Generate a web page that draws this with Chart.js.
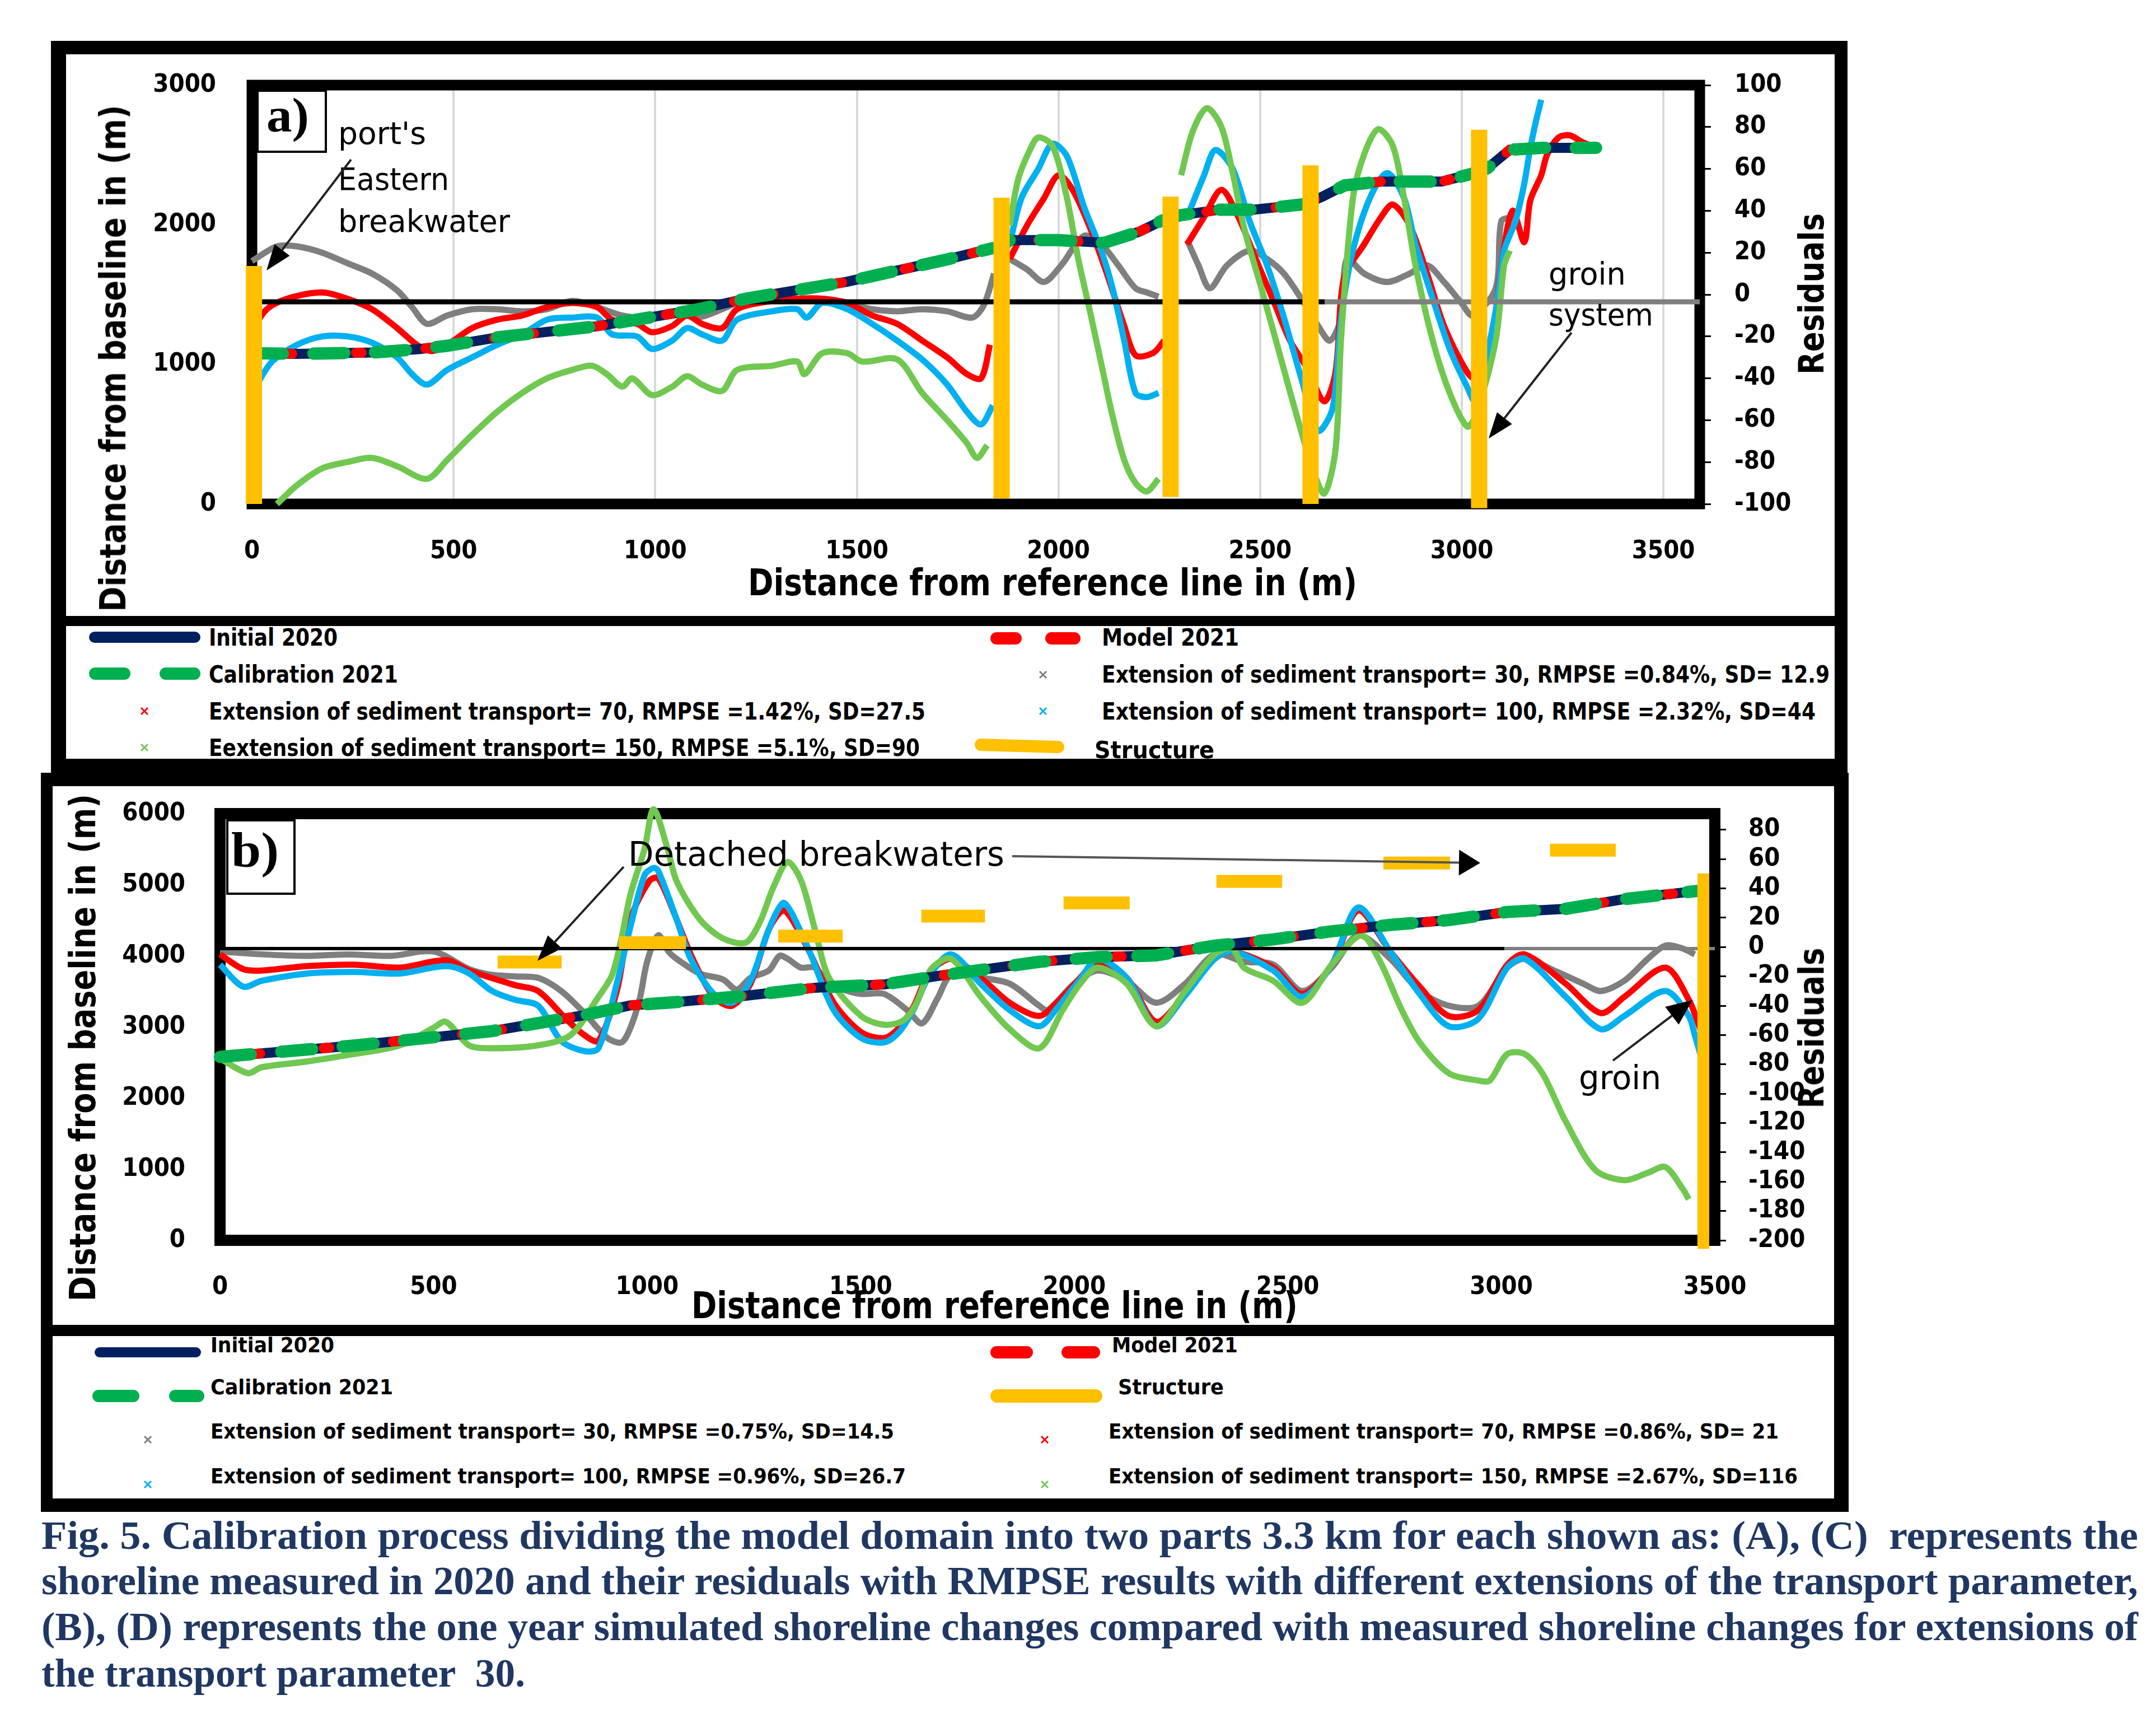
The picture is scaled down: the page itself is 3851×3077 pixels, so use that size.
<!DOCTYPE html>
<html><head><meta charset="utf-8">
<script src="https://cdn.jsdelivr.net/npm/chart.js@4.4.1/dist/chart.umd.min.js"></script>
<style>
html,body{margin:0;padding:0;background:#fff;}
body{width:3851px;height:3077px;position:relative;overflow:hidden;}
canvas{position:absolute;left:0;z-index:1;}
.b{position:absolute;background:#000;z-index:4;}
.t{position:absolute;white-space:pre;transform-origin:0 0;z-index:2;}
.lbl{position:absolute;background:#fff;border:4px solid #000;box-sizing:border-box;z-index:2;}
</style></head><body>
<canvas id="ca" width="3851" height="1100" style="top:0;width:3851px;height:1100px"></canvas>
<canvas id="cb" width="3851" height="1060" style="top:1300px;width:3851px;height:1060px"></canvas>
<svg id="ov" width="3851" height="3077" style="position:absolute;left:0;top:0;z-index:3" xmlns="http://www.w3.org/2000/svg"></svg>
<script>
// ---------------- DATA ----------------
const xTicksA = [0,500,1000,1500,2000,2500,3000,3500];
const yTicksA = [0,1000,2000,3000];
const rTicksA = [-100,-80,-60,-40,-20,0,20,40,60,80,100];
const xTicksB = [0,500,1000,1500,2000,2500,3000,3500];
const yTicksB = [0,1000,2000,3000,4000,5000,6000];
const rTicksB = [-200,-180,-160,-140,-120,-100,-80,-60,-40,-20,0,20,40,60,80];

// Panel a: shoreline (Initial 2020 / Calibration 2021 / Model 2021), distance from baseline (m)
const shoreA = [[0,1080],[112,1075],[300,1085],[418,1110],[484,1133],[608,1193],[732,1233],[856,1273],[980,1333],[1104,1393],[1228,1472],[1352,1532],[1476,1592],[1600,1672],[1724,1752],[1835,1831],[1858,1840],[1879,1890],[2000,1890],[2113,1870],[2200,1950],[2255,2027],[2300,2067],[2400,2108],[2484,2108],[2540,2125],[2611,2148],[2654,2201],[2710,2282],[2800,2309],[2950,2309],[3021,2362],[3063,2403],[3119,2537],[3200,2551],[3333,2551]];
// Panel a: structures (x, bottom, top)
const structAx = [5,1859,2278,2625,3043];
const structAbottom = [0,40,50,0,-30];
const structAtop = [1705,2194,2202,2425,2680];
// Panel a residuals
const resA30 = [[0,16],[62,23],[112,23],[174,20],[236,15],[298,10],[360,2],[397,-6],[434,-14],[484,-10],[546,-7],[608,-7],[670,-8],[732,-7],[794,-3],[856,-6],[918,-10],[980,-11],[1042,-8],[1104,-11],[1166,-7],[1228,-2],[1290,-2],[1352,-3],[1414,-2],[1476,-4],[1538,-7],[1600,-8],[1662,-7],[1724,-8],[1786,-11],[1815,-5],[1840,10],[1859,null],[1879,17],[1922,12],[1964,6],[2007,14],[2063,28],[2106,24],[2148,14],[2191,3],[2219,1],[2248,-1],[2278,null],[2319,26],[2347,14],[2375,3],[2418,14],[2474,21],[2517,17],[2559,10],[2602,-2],[2644,-15],[2673,-22],[2701,-11],[2715,17],[2758,10],[2815,6],[2871,10],[2914,14],[2956,6],[2999,-4],[3027,-10],[3084,3],[3098,35],[3126,37]];
const resA70 = [[0,-17],[37,-7],[87,-2],[174,1],[236,-2],[298,-7],[360,-16],[409,-24],[446,-27],[484,-24],[546,-16],[608,-12],[670,-10],[732,-6],[794,-4],[856,-6],[893,-12],[955,-14],[992,-18],[1042,-15],[1079,-10],[1116,-14],[1166,-16],[1203,-7],[1290,-3],[1352,-2],[1414,-2],[1476,-4],[1538,-10],[1600,-14],[1662,-22],[1724,-30],[1773,-38],[1808,-40],[1830,-24],[1859,null],[1879,17],[1922,33],[1964,46],[2000,57],[2035,50],[2078,32],[2120,10],[2163,-15],[2191,-29],[2234,-28],[2262,-22],[2278,null],[2319,24],[2361,37],[2404,50],[2446,37],[2489,17],[2531,-2],[2574,-22],[2616,-35],[2659,-51],[2687,-37],[2708,8],[2758,24],[2800,37],[2829,43],[2871,33],[2914,10],[2956,-15],[3013,-37],[3034,-40],[3077,-17],[3098,14],[3126,40],[3155,25],[3170,45],[3197,57],[3212,67],[3240,75],[3268,76],[3297,73],[3320,71]];
const resA100 = [[12,-43],[50,-32],[112,-24],[174,-20],[236,-20],[298,-23],[360,-30],[397,-38],[434,-43],[484,-36],[546,-30],[608,-24],[670,-19],[732,-12],[794,-11],[856,-11],[893,-19],[955,-20],[992,-26],[1042,-22],[1079,-16],[1116,-19],[1166,-22],[1203,-12],[1290,-8],[1352,-7],[1376,-11],[1414,-4],[1476,-7],[1538,-14],[1600,-22],[1662,-31],[1724,-43],[1773,-56],[1808,-62],[1837,-53],[1859,null],[1879,24],[1908,46],[1950,60],[1985,72],[2021,66],[2063,42],[2106,21],[2134,3],[2163,-22],[2191,-47],[2219,-49],[2248,-47],[2278,null],[2319,37],[2361,57],[2389,69],[2432,60],[2474,35],[2517,14],[2559,-11],[2602,-40],[2644,-65],[2680,-54],[2701,-11],[2730,21],[2772,46],[2815,58],[2857,46],[2885,24],[2928,-2],[2970,-26],[3013,-44],[3034,-51],[3084,-8],[3105,21],[3133,35],[3155,53],[3169,69],[3183,82],[3197,93]];
const resA150 = [[62,-100],[112,-91],[174,-83],[236,-80],[298,-78],[360,-82],[434,-88],[484,-79],[546,-67],[608,-56],[670,-47],[732,-40],[794,-36],[843,-34],[880,-38],[918,-44],[943,-40],[992,-48],[1042,-44],[1079,-39],[1116,-43],[1166,-46],[1203,-36],[1290,-34],[1352,-32],[1370,-38],[1414,-28],[1476,-28],[1513,-32],[1600,-31],[1662,-47],[1724,-60],[1773,-71],[1798,-78],[1823,-72],[1859,null],[1879,33],[1900,55],[1929,69],[1950,75],[1985,71],[2021,46],[2049,17],[2078,-8],[2106,-33],[2134,-58],[2163,-79],[2191,-90],[2219,-94],[2248,-88],[2278,null],[2304,57],[2333,78],[2368,89],[2404,80],[2432,58],[2460,32],[2503,3],[2545,-26],[2588,-56],[2630,-83],[2659,-95],[2687,-74],[2701,-20],[2730,46],[2758,67],[2793,79],[2829,71],[2857,46],[2885,14],[2928,-22],[2970,-47],[3013,-63],[3034,-58],[3084,-22],[3105,14],[3119,21]];
const zeroA = [[0,-3.5],[2660,-3.5],[3590,-3.5]];

// Panel b: shoreline
const shoreB = [[0,2579],[313,2738],[637,2942],[853,3167],[961,3303],[1069,3350],[1231,3439],[1393,3552],[1555,3598],[1674,3711],[1781,3802],[1917,3915],[2055,3983],[2191,4006],[2328,4142],[2466,4231],[2603,4346],[2740,4435],[2877,4503],[3014,4617],[3151,4662],[3288,4798],[3470,4920]];
// Panel b: detached breakwaters (x start, x end, distance) and groin (x, bottom, top)
const breakwatersB = [[650,800,3914],[934,1091,4186],[1307,1458,4278],[1642,1791,4560],[1975,2130,4744],[2333,2487,5047],[2724,2880,5305],[3114,3268,5487]];
const groinB = [3473,-120,5160];
// Panel b residuals
const resB30 = [[0,-3],[100,-5],[200,-6],[300,-5],[400,-6],[500,-3],[583,-15],[637,-19],[691,-20],[745,-21],[799,-30],[853,-45],[907,-62],[940,-65],[961,-55],[983,-35],[1000,-10],[1026,8],[1050,-3],[1069,-8],[1123,-18],[1177,-22],[1210,-29],[1242,-21],[1285,-16],[1310,-6],[1329,-8],[1360,-14],[1393,-14],[1426,-25],[1470,-30],[1501,-32],[1555,-32],[1609,-43],[1644,-52],[1680,-35],[1712,-19],[1781,-21],[1849,-25],[1918,-40],[1938,-43],[2000,-25],[2055,-16],[2123,-23],[2192,-38],[2260,-25],[2329,-5],[2397,-10],[2466,-12],[2534,-30],[2603,-14],[2665,8],[2740,-8],[2809,-30],[2877,-40],[2946,-40],[3014,-14],[3055,-8],[3124,-16],[3192,-25],[3233,-30],[3288,-23],[3343,-8],[3384,1],[3425,-1],[3453,-5]];
const resB70 = [[0,-5],[54,-15],[97,-16],[205,-13],[313,-12],[421,-14],[529,-9],[583,-16],[691,-26],[745,-30],[810,-49],[853,-60],[886,-64],[929,-30],[961,19],[1005,45],[1026,47],[1069,19],[1102,-5],[1156,-34],[1199,-40],[1242,-25],[1285,12],[1318,25],[1339,19],[1383,-5],[1437,-38],[1501,-58],[1555,-62],[1590,-55],[1625,-40],[1660,-18],[1712,-8],[1781,-21],[1849,-38],[1918,-47],[1959,-38],[2014,-21],[2055,-10],[2123,-21],[2192,-51],[2260,-32],[2329,-8],[2370,-3],[2466,-14],[2534,-32],[2603,-12],[2665,25],[2740,-3],[2809,-27],[2877,-47],[2946,-43],[3014,-12],[3055,-5],[3151,-25],[3233,-45],[3288,-34],[3384,-14],[3439,-36],[3466,-56]];
const resB100 = [[0,-12],[54,-27],[97,-23],[205,-18],[313,-17],[421,-18],[529,-13],[583,-18],[637,-30],[691,-36],[745,-40],[799,-64],[853,-71],[886,-69],[929,-25],[961,14],[994,49],[1015,54],[1026,52],[1069,19],[1102,-8],[1156,-32],[1199,-38],[1242,-23],[1285,12],[1318,30],[1339,23],[1383,-5],[1437,-43],[1501,-62],[1555,-65],[1590,-58],[1625,-42],[1660,-20],[1712,-5],[1781,-25],[1849,-43],[1918,-54],[1959,-42],[2014,-22],[2055,-8],[2123,-21],[2192,-54],[2260,-33],[2329,-8],[2370,-3],[2466,-16],[2534,-34],[2603,-12],[2665,27],[2740,-3],[2809,-32],[2877,-54],[2946,-49],[3014,-14],[3055,-8],[3151,-34],[3233,-56],[3288,-47],[3384,-30],[3439,-47],[3453,-60],[3466,-73]];
const resB150 = [[0,-76],[65,-86],[97,-82],[205,-78],[313,-73],[421,-67],[500,-55],[529,-51],[583,-67],[637,-69],[745,-67],[821,-60],[886,-34],[918,-19],[940,6],[961,36],[994,67],[1015,94],[1048,67],[1069,45],[1123,19],[1177,6],[1231,3],[1264,17],[1296,41],[1329,58],[1361,45],[1393,12],[1426,-21],[1501,-47],[1555,-53],[1600,-50],[1631,-38],[1665,-15],[1712,-8],[1781,-34],[1849,-56],[1918,-69],[1973,-43],[2014,-25],[2055,-14],[2123,-25],[2192,-54],[2260,-30],[2329,-5],[2370,-1],[2397,-14],[2466,-23],[2534,-38],[2603,-12],[2672,8],[2713,-8],[2767,-43],[2809,-65],[2877,-86],[2946,-91],[2973,-91],[3014,-73],[3055,-73],[3096,-86],[3151,-119],[3220,-152],[3288,-159],[3343,-154],[3384,-150],[3425,-165],[3439,-172]];
const zeroB = [[0,-1],[3007,-1],[3500,-1]];

// ---------------- STYLE ----------------
const C = {navy:'#002060', red:'#FF0000', green:'#00B050', gray:'#7F7F7F', blue:'#00B0F0', lgreen:'#70C850', yellow:'#FFC000'};
const F_NARROW = '"Liberation Sans Narrow","DejaVu Sans Condensed","Liberation Sans",sans-serif';
const F_DV = '"DejaVu Sans",Verdana,sans-serif';
const F_TICK = '"DejaVu Sans Condensed","DejaVu Sans",sans-serif';
const F_SERIF = '"Liberation Serif","Times New Roman",serif';

function P(a){return a.map(p=>({x:p[0],y:p[1]}));}
function vBars(xs,bs,ts){const o=[];xs.forEach((x,i)=>{o.push({x,y:bs[i]},{x,y:ts[i]},{x,y:null});});return o;}
function hBars(l){const o=[];l.forEach(b=>{o.push({x:b[0],y:b[2]},{x:b[1],y:b[2]},{x:b[1],y:null});});return o;}
function setTicks(arr){return s=>{s.ticks=arr.map(v=>({value:v}));};}
function line(data,axis,color,width,order,extra){return Object.assign({data,yAxisID:axis,showLine:true,borderColor:color,backgroundColor:color,borderWidth:width,pointRadius:0,spanGaps:false,order,clip:false},extra||{});}
function resDS(data,color,order){return line(P(data),'y2',color,11,order,{tension:0.3});}

const framePlugin={id:'frame',beforeDatasetsDraw(chart,args,opts){const {ctx,chartArea:a}=chart;ctx.save();ctx.lineWidth=opts.width;ctx.strokeStyle='#000';ctx.strokeRect(a.left,a.top,a.right-a.left,a.bottom-a.top);ctx.restore();}};
Chart.register(framePlugin);

const tickFont={family:F_TICK,size:45,weight:'bold'};
const plain=v=>String(v);
function tk(pad){return {font:tickFont,color:'#000',padding:pad,autoSkip:false,maxRotation:0,callback:plain};}

function shoreSets(data){
  return [
    line(P(data),'y',C.green,22,1,{borderDash:[55,55],borderCapStyle:'round'}),
    line(P(data),'y',C.red,18,2,{borderDash:[10,52],borderCapStyle:'round'}),
    line(P(data),'y',C.navy,18,3)
  ];
}

// Chart a
new Chart(document.getElementById('ca'),{
  type:'scatter',
  data:{datasets:[
    line(vBars(structAx,structAbottom,structAtop),'y',C.yellow,29,0,{borderCapStyle:'butt'}),
    ...shoreSets(shoreA),
    line(P(zeroA.slice(0,2)),'y2','#000',9,4),
    line(P(zeroA.slice(1)),'y2',C.gray,9,4),
    resDS(resA150,C.lgreen,5),
    resDS(resA100,C.blue,6),
    resDS(resA70,C.red,7),
    resDS(resA30,C.gray,8)
  ]},
  options:{
    responsive:false,animation:false,devicePixelRatio:1,
    layout:{padding:{left:0,right:615,top:152,bottom:50}},
    plugins:{legend:{display:false},tooltip:{enabled:false},frame:{width:19}},
    scales:{
      x:{type:'linear',min:0,max:3590,afterBuildTicks:setTicks(xTicksA),afterFit:s=>{s.height=150;},
         grid:{color:'#D9D9D9',lineWidth:4,drawTicks:false},border:{display:false},ticks:tk(58)},
      y:{type:'linear',position:'left',min:0,max:3000,afterBuildTicks:setTicks(yTicksA),afterFit:s=>{s.width=450;},
         grid:{display:false},border:{display:false},ticks:tk(56)},
      y2:{type:'linear',position:'right',min:-100,max:100,afterBuildTicks:setTicks(rTicksA),afterFit:s=>{s.width=200;},
         grid:{drawOnChartArea:false,drawTicks:true,tickLength:20,color:'#000',lineWidth:3},border:{display:false},ticks:tk(42)}
    }
  }
});

// Chart b
new Chart(document.getElementById('cb'),{
  type:'scatter',
  data:{datasets:[
    line(hBars(breakwatersB),'y',C.yellow,23,0,{borderCapStyle:'butt'}),
    line(vBars([groinB[0]],[groinB[1]],[groinB[2]]),'y',C.yellow,21,0,{borderCapStyle:'butt'}),
    ...shoreSets(shoreB),
    line(P(zeroB.slice(0,2)),'y2','#000',6,4),
    line(P(zeroB.slice(1)),'y2',C.gray,6,4),
    resDS(resB150,C.lgreen,5),
    resDS(resB100,C.blue,6),
    resDS(resB70,C.red,7),
    resDS(resB30,C.gray,8)
  ]},
  options:{
    responsive:false,animation:false,devicePixelRatio:1,
    layout:{padding:{left:0,right:588,top:153,bottom:25}},
    plugins:{legend:{display:false},tooltip:{enabled:false},frame:{width:20}},
    scales:{
      x:{type:'linear',min:0,max:3500,afterBuildTicks:setTicks(xTicksB),afterFit:s=>{s.height=120;},
         grid:{display:false},border:{display:false},ticks:tk(49)},
      y:{type:'linear',position:'left',min:0,max:6000,afterBuildTicks:setTicks(yTicksB),afterFit:s=>{s.width=393;},
         grid:{display:false},border:{display:false},ticks:tk(54)},
      y2:{type:'linear',position:'right',min:-200,max:91,afterBuildTicks:setTicks(rTicksB),afterFit:s=>{s.width=200;},
         grid:{drawOnChartArea:false,drawTicks:true,tickLength:20,color:'#000',lineWidth:3},border:{display:false},ticks:tk(40)}
    }
  }
});

// ---------------- TEXT / DECOR ----------------
function T(s,x,base,size,font,weight,w,color){
  const d=document.createElement('div');d.className='t';d.textContent=s;
  d.style.font=`${weight} ${size}px/${size}px ${font}`;
  d.style.left=x+'px';d.style.top=(base-0.845*size)+'px';d.style.color=color||'#000';
  document.body.appendChild(d);
  if(w){const cw=d.getBoundingClientRect().width;d.style.transform=`scaleX(${w/cw})`;}
  return d;
}
function TC(s,cx,base,size,font,weight,w,color){return T(s,cx-w/2,base,size,font,weight,w,color);}
function RT(s,cx,cy,size,font,len){
  const d=document.createElement('div');d.className='t';d.textContent=s;
  d.style.font=`bold ${size}px/${size}px ${font}`;d.style.left=cx+'px';d.style.top=cy+'px';
  document.body.appendChild(d);
  const w=d.getBoundingClientRect().width;
  d.style.transform=`rotate(-90deg) scaleX(${len/w}) translate(-50%,-50%)`;
}
function R(x,y,w,h,cls){const d=document.createElement('div');d.className=cls||'b';d.style.left=x+'px';d.style.top=y+'px';d.style.width=w+'px';d.style.height=h+'px';document.body.appendChild(d);return d;}

const svg=document.getElementById('ov');const NS='http://www.w3.org/2000/svg';
function S(tag,attrs){const e=document.createElementNS(NS,tag);for(const k in attrs)e.setAttribute(k,attrs[k]);svg.appendChild(e);return e;}
function L(x1,y1,x2,y2,c,w,cap){S('line',{x1,y1,x2,y2,stroke:c,'stroke-width':w,'stroke-linecap':cap||'butt'});}
function X(x,y,c){const r=6;L(x-r,y-r,x+r,y+r,c,3);L(x-r,y+r,x+r,y-r,c,3);}
function ARROW(x1,y1,x2,y2,c,len,hw){
  const dx=x2-x1,dy=y2-y1,d=Math.hypot(dx,dy),ux=dx/d,uy=dy/d,bx=x2-ux*len,by=y2-uy*len;
  L(x1,y1,bx,by,c,4);
  S('polygon',{points:`${x2},${y2} ${bx-uy*hw},${by+ux*hw} ${bx+uy*hw},${by-ux*hw}`,fill:'#000'});
}

// panel frames
R(91,73,3209,24);R(91,73,27,1300);R(3277,73,23,1305);R(91,1355,3209,29);R(91,1100,3209,18);
R(73,1380,3229,24);R(73,1380,21,1320);R(3276,1384,26,1316);R(73,2676,3229,24);R(73,2366,3229,20);

// axis titles
RT('Distance from baseline in (m)',202,640,64,F_DV,905);
RT('Residuals',3236,525,62,F_DV,288);
TC('Distance from reference line in (m)',1880,1064,66,F_NARROW,'bold',1088);
RT('Distance from baseline in (m)',148,1871,64,F_DV,906);
RT('Residuals',3236,1836,62,F_DV,287);
TC('Distance from reference line in (m)',1776,2355,66,F_NARROW,'bold',1083);

// panel labels
R(458,160,126,113,'lbl');T('a)',476,236,86,F_SERIF,'bold',76);
R(404,1463,124,135,'lbl');T('b)',413,1549,88,F_SERIF,'bold',85);

// annotations
T("port's",604,257,56,F_NARROW,'normal',157);
T('Eastern',604,339,56,F_NARROW,'normal',198);
T('breakwater',604,414,56,F_NARROW,'normal',307);
T('groin',2766,508,56,F_NARROW,'normal',138);
T('system',2766,581,56,F_NARROW,'normal',187);
T('Detached breakwaters',1122,1546,60,F_NARROW,'normal',672);
T('groin',2820,1945,58,F_NARROW,'normal',147);
ARROW(627,285,476,483,'#222',46,17);
ARROW(2807,594,2659,783,'#222',46,17);
ARROW(1114,1548,960,1716,'#222',46,17);
ARROW(1808,1529,2644,1541,'#555',38,23);
ARROW(2881,1894,3023,1786,'#222',46,20);

// legend a
L(169,1138,348,1138,C.navy,20,'round');
L(1780,1140,1814,1140,C.red,22,'round');L(1878,1140,1919,1140,C.red,22,'round');
L(170,1203,222,1203,C.green,22,'round');L(296,1203,347,1203,C.green,22,'round');
X(1863,1205,C.gray);X(258,1270,C.red);X(1863,1270,C.blue);X(258,1335,C.lgreen);
L(1752,1330,1890,1334,C.yellow,22,'round');
const LA=42;
T('Initial 2020',373,1153,LA,F_NARROW,'bold',230);
T('Model 2021',1968,1153,LA,F_NARROW,'bold',245);
T('Calibration 2021',373,1219,LA,F_NARROW,'bold',338);
T('Extension of sediment transport= 30, RMPSE =0.84%, SD= 12.9',1968,1219,LA,F_NARROW,'bold',1300);
T('Extension of sediment transport= 70, RMPSE =1.42%, SD=27.5',373,1285,LA,F_NARROW,'bold',1280);
T('Extension of sediment transport= 100, RMPSE =2.32%, SD=44',1968,1285,LA,F_NARROW,'bold',1275);
T('Eextension of sediment transport= 150, RMPSE =5.1%, SD=90',373,1350,LA,F_NARROW,'bold',1270);
T('Structure',1955,1354,LA,F_NARROW,'bold',214);

// legend b
L(178,2415,350,2415,C.navy,18,'round');
L(1780,2415,1834,2415,C.red,22,'round');L(1907,2415,1954,2415,C.red,22,'round');
L(176,2493,238,2493,C.green,22,'round');L(313,2493,354,2493,C.green,22,'round');
L(1781,2493,1957,2493,C.yellow,24,'round');
X(264,2571,C.gray);X(1866,2571,C.red);X(264,2651,C.blue);X(1866,2651,C.lgreen);
const LB=38;
T('Initial 2020',376,2415,LB,F_NARROW,'bold',221);
T('Model 2021',1986,2415,LB,F_NARROW,'bold',225);
T('Calibration 2021',376,2490,LB,F_NARROW,'bold',326);
T('Structure',1997,2490,LB,F_NARROW,'bold',189);
T('Extension of sediment transport= 30, RMPSE =0.75%, SD=14.5',376,2569,LB,F_NARROW,'bold',1221);
T('Extension of sediment transport= 70, RMPSE =0.86%, SD= 21',1980,2569,LB,F_NARROW,'bold',1197);
T('Extension of sediment transport= 100, RMPSE =0.96%, SD=26.7',376,2649,LB,F_NARROW,'bold',1242);
T('Extension of sediment transport= 150, RMPSE =2.67%, SD=116',1980,2649,LB,F_NARROW,'bold',1231);

// caption
const CAP='#1F3763';
T('Fig. 5. Calibration process dividing the model domain into two parts 3.3 km for each shown as: (A), (C)  represents the',74,2767,72,F_SERIF,'bold',3745,CAP);
T('shoreline measured in 2020 and their residuals with RMPSE results with different extensions of the transport parameter,',74,2848,72,F_SERIF,'bold',3745,CAP);
T('(B), (D) represents the one year simulated shoreline changes compared with measured shoreline changes for extensions of',74,2930,72,F_SERIF,'bold',3745,CAP);
T('the transport parameter  30.',74,3013,72,F_SERIF,'bold',864,CAP);
</script>
</body></html>
